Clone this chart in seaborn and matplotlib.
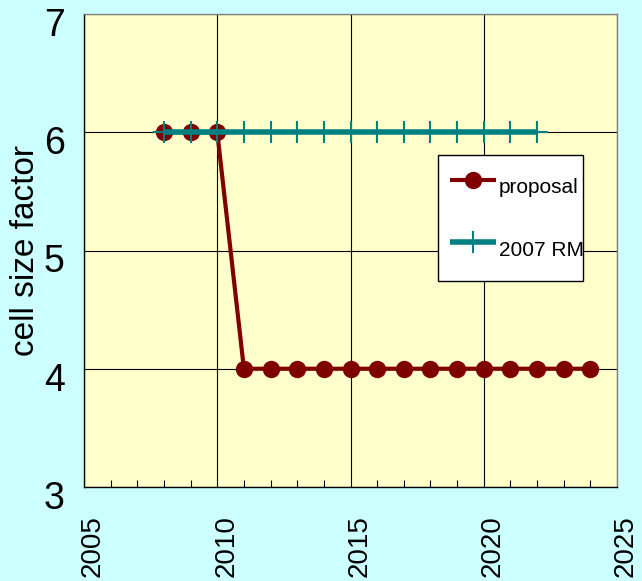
import matplotlib
matplotlib.use("Agg")
import matplotlib.pyplot as plt
import matplotlib.transforms as mtransforms
from matplotlib.ticker import MultipleLocator
import pandas as pd
import seaborn as sns

# data
proposal_years = [2008, 2009, 2010, 2011, 2012, 2013, 2014, 2015, 2016,
                  2017, 2018, 2019, 2020, 2021, 2022, 2023, 2024]
proposal_vals = [6, 6, 6, 4, 4, 4, 4, 4, 4, 4, 4, 4, 4, 4, 4, 4, 4]
rm_years = list(range(2008, 2023))
rm_vals = [6] * len(rm_years)

sns.set_theme(style="white")
plt.rcParams["font.family"] = ["Liberation Sans", "DejaVu Sans"]
for key in ("text.color", "axes.labelcolor", "xtick.color", "ytick.color"):
    plt.rcParams[key] = "black"

BG = "#CCFFFF"
RED = "#800000"
TEAL = "#008080"
fig = plt.figure(figsize=(6.42, 5.81), dpi=100, facecolor=BG)
ax = fig.add_axes([84 / 642, 1 - 487 / 581, 533 / 642, 473 / 581])
ax.set_facecolor("#FFFFCC")

df_p = pd.DataFrame({"year": proposal_years, "val": proposal_vals})
df_r = pd.DataFrame({"year": rm_years, "val": rm_vals})

sns.lineplot(data=df_p, x="year", y="val", ax=ax, color=RED,
             linewidth=3, marker="o", markersize=12.5, markeredgewidth=0,
             markerfacecolor=RED, solid_capstyle="butt",
             label="proposal", zorder=3)
sns.lineplot(data=df_r, x="year", y="val", ax=ax, color=TEAL,
             linewidth=4, marker="+", markersize=16, markeredgewidth=1.5,
             markeredgecolor=TEAL, solid_capstyle="butt",
             label="2007 RM", zorder=4)

ax.set_xlim(2005, 2025)
ax.set_ylim(3, 7)
ax.xaxis.set_major_locator(MultipleLocator(5))
ax.xaxis.set_minor_locator(MultipleLocator(1))
ax.yaxis.set_major_locator(MultipleLocator(1))
ax.grid(True, which="major", color="black", linewidth=0.8)
ax.tick_params(axis="x", which="major", direction="in", length=8,
               width=0.8, color="black", labelsize=20, pad=20,
               labelrotation=90, labelcolor="black")
ax.tick_params(axis="x", which="minor", direction="in", length=5,
               width=0.8, color="black", bottom=True)
ax.tick_params(axis="y", direction="in", length=0, labelsize=27, pad=14,
               labelcolor="black")

# labels in the reference sit a little right / below their ticks
shift_x = mtransforms.ScaledTranslation(9 / 100, 0, fig.dpi_scale_trans)
shift_y = mtransforms.ScaledTranslation(0, -8 / 100, fig.dpi_scale_trans)
for lab in ax.get_xticklabels():
    lab.set_transform(lab.get_transform() + shift_x)
for lab in ax.get_yticklabels():
    lab.set_transform(lab.get_transform() + shift_y)

for side in ("left", "bottom"):
    ax.spines[side].set_color("black")
    ax.spines[side].set_linewidth(1)
for side in ("top", "right"):
    ax.spines[side].set_color("#808080")
    ax.spines[side].set_linewidth(1)

ax.set_xlabel("")
ax.set_ylabel("cell size factor", fontsize=24, color="black")
ax.yaxis.set_label_coords(-0.08, 0.5)

leg = ax.legend(loc="upper left", bbox_to_anchor=(0.664, 0.433, 0.272, 0.269),
                mode="expand", frameon=True, fancybox=False, framealpha=1,
                facecolor="white", edgecolor="black", handlelength=2.2,
                handleheight=2.56, handletextpad=0.15, labelspacing=1.07,
                borderpad=0.59, borderaxespad=0,
                prop={"size": 15})
leg.get_frame().set_linewidth(1)

# the reference cuts the legend text at the frame edge
fig.canvas.draw()
frame_box = leg.get_frame().get_window_extent()
for txt in leg.get_texts():
    txt.set_color("black")
    txt.set_clip_on(True)
    txt.set_clip_box(frame_box)

fig.savefig("out.png", dpi=100, facecolor=BG)
